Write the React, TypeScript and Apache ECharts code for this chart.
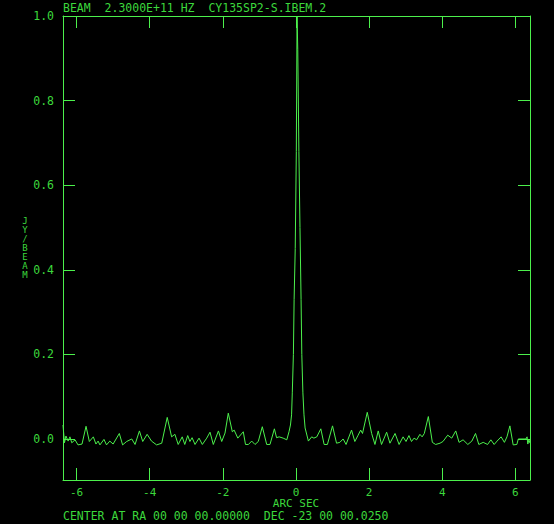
import React, { useEffect, useRef } from "react";
import * as echarts from "echarts";

const TITLE = "BEAM  2.3000E+11 HZ  CY135SP2-S.IBEM.2";
const FOOTER = "CENTER AT RA 00 00 00.00000  DEC -23 00 00.0250";
const X_NAME = "ARC SEC";
const Y_NAME = "JY/BEAM";
const X_TICKS = [-6, -4, -2, 0, 2, 4, 6];
const Y_TICKS = [0, 0.2, 0.4, 0.6, 0.8, 1.0];
const X_RANGE = [-6.37, 6.4];
const Y_RANGE = [-0.097, 1.0];

// [arc sec, Jy/beam]
const BEAM: [number, number][] = [
  [-6.37, 0.033], [-6.33, -0.009], [-6.29, 0.007], [-6.23, -0.005], [-6.18, 0.005], [-6.13, -0.009],
  [-6.04, -0.002], [-5.96, -0.014], [-5.85, -0.012], [-5.74, 0.03], [-5.65, -0.006], [-5.54, 0.005],
  [-5.47, -0.012], [-5.41, -0.005], [-5.36, -0.014], [-5.25, -0.001], [-5.18, -0.014], [-5.09, -0.005],
  [-5.0, -0.012], [-4.83, 0.013], [-4.74, -0.014], [-4.63, -0.006], [-4.49, 0.0], [-4.4, -0.013],
  [-4.28, 0.019], [-4.19, -0.006], [-4.07, 0.011], [-3.95, -0.005], [-3.81, -0.014], [-3.67, -0.01],
  [-3.52, 0.051], [-3.4, 0.005], [-3.31, 0.011], [-3.22, -0.013], [-3.11, 0.005], [-3.04, -0.013],
  [-2.96, 0.008], [-2.9, -0.006], [-2.84, 0.003], [-2.76, -0.013], [-2.65, 0.002], [-2.56, -0.013],
  [-2.44, 0.002], [-2.35, 0.016], [-2.26, -0.013], [-2.12, 0.019], [-2.03, -0.006], [-1.94, 0.014],
  [-1.85, 0.061], [-1.74, 0.017], [-1.69, 0.021], [-1.59, 0.002], [-1.44, 0.017], [-1.38, -0.013],
  [-1.3, -0.013], [-1.21, -0.005], [-1.12, -0.013], [-1.03, -0.006], [-0.92, 0.029], [-0.8, -0.013],
  [-0.71, -0.013], [-0.59, 0.024], [-0.53, 0.003], [-0.46, 0.005], [-0.35, 0.002], [-0.25, -0.002],
  [-0.19, 0.017], [-0.15, 0.033], [-0.12, 0.057], [-0.1, 0.109], [-0.07, 0.2], [-0.05, 0.33],
  [-0.02, 0.45], [0.01, 0.68], [0.03, 1.0], [0.05, 0.92], [0.08, 0.68], [0.11, 0.5],
  [0.14, 0.33], [0.16, 0.2], [0.19, 0.109], [0.22, 0.057], [0.25, 0.026], [0.34, -0.005],
  [0.43, 0.005], [0.49, 0.002], [0.57, 0.005], [0.68, 0.024], [0.77, -0.013], [0.86, -0.013],
  [1.0, 0.031], [1.11, -0.01], [1.2, -0.008], [1.29, 0.0], [1.37, -0.013], [1.52, 0.021],
  [1.61, -0.006], [1.7, 0.009], [1.77, 0.021], [1.82, 0.013], [1.95, 0.063], [2.07, 0.013],
  [2.16, -0.013], [2.25, 0.019], [2.34, -0.013], [2.48, 0.016], [2.57, -0.01], [2.71, 0.013],
  [2.82, -0.013], [2.93, 0.005], [3.01, -0.006], [3.09, 0.008], [3.16, -0.006], [3.23, 0.002],
  [3.3, -0.002], [3.39, 0.011], [3.45, 0.005], [3.51, 0.013], [3.62, 0.053], [3.73, -0.008],
  [3.82, -0.013], [3.94, -0.01], [4.02, -0.006], [4.15, 0.009], [4.26, 0.002], [4.37, 0.019],
  [4.46, -0.008], [4.57, -0.002], [4.7, -0.013], [4.81, -0.005], [4.91, 0.013], [5.0, -0.013],
  [5.12, -0.008], [5.24, -0.013], [5.33, -0.002], [5.42, -0.013], [5.5, -0.005], [5.61, 0.005],
  [5.7, -0.008], [5.77, 0.005], [5.85, 0.031], [5.94, -0.014], [6.04, -0.013], [6.08, 0.0],
  [6.29, 0.0], [6.32, 0.005], [6.34, -0.012], [6.37, -0.002], [6.4, -0.01],
];

const LINE = "#4cf04c";
const TEXT = "#3cd83c";
const FONT = "DejaVu Sans Mono";
const FS = 11.5;
const FS_SMALL = 11;

export default function App() {
  const ref = useRef<HTMLDivElement>(null);
  useEffect(() => {
    document.body.style.margin = "0";
    document.body.style.background = "#000";
    if (!ref.current) return;
    const chart = echarts.init(ref.current, undefined, { renderer: "svg" });
    const axisLine = { show: true, onZero: false, lineStyle: { color: LINE, width: 1 } };
    const tick = (vals: number[]) => ({
      show: true,
      inside: true,
      length: 12,
      customValues: vals,
      lineStyle: { color: LINE, width: 1 },
    });
    const xBase = {
      type: "value" as const,
      min: X_RANGE[0],
      max: X_RANGE[1],
      splitLine: { show: false },
      axisLine,
    };
    const yBase = {
      type: "value" as const,
      min: Y_RANGE[0],
      max: Y_RANGE[1],
      splitLine: { show: false },
      axisLine,
    };
    chart.setOption({
      animation: false,
      backgroundColor: "#000",
      grid: { left: 63, right: 24, top: 16, bottom: 44, containLabel: false },
      xAxis: [
        {
          ...xBase,
          position: "bottom",
          axisTick: tick(X_TICKS),
          axisLabel: {
            show: true,
            customValues: X_TICKS,
            formatter: (v: number) => String(Math.round(v)),
            color: TEXT,
            fontFamily: FONT,
            fontSize: FS_SMALL,
            lineHeight: 10,
            margin: 7,
          },
        },
        {
          ...xBase,
          position: "top",
          axisTick: tick(X_TICKS),
          axisLabel: { show: false },
        },
      ],
      yAxis: [
        {
          ...yBase,
          position: "left",
          axisTick: tick(Y_TICKS),
          axisLabel: {
            show: true,
            customValues: Y_TICKS,
            formatter: (v: number) => v.toFixed(1),
            color: TEXT,
            fontFamily: FONT,
            fontSize: FS,
            lineHeight: 10,
            margin: 9,
          },
        },
        {
          ...yBase,
          position: "right",
          axisTick: tick(Y_TICKS),
          axisLabel: { show: false },
        },
      ],
      series: [
        {
          type: "line",
          data: BEAM,
          showSymbol: false,
          symbol: "none",
          lineStyle: { color: LINE, width: 1 },
          xAxisIndex: 0,
          yAxisIndex: 0,
          silent: true,
        },
      ],
      graphic: [
        {
          type: "text",
          x: 63,
          y: 7.5,
          style: {
            text: TITLE,
            fill: TEXT,
            font: `${FS}px ${FONT}`,
            lineHeight: 10,
            verticalAlign: "middle",
          },
        },
        {
          type: "text",
          x: 296,
          y: 503.5,
          style: {
            text: X_NAME,
            fill: TEXT,
            font: `${FS_SMALL}px ${FONT}`,
            lineHeight: 10,
            align: "center",
            verticalAlign: "middle",
          },
        },
        {
          type: "text",
          x: 63,
          y: 515.5,
          style: {
            text: FOOTER,
            fill: TEXT,
            font: `${FS}px ${FONT}`,
            lineHeight: 10,
            verticalAlign: "middle",
          },
        },
        {
          type: "text",
          x: 25,
          y: 248,
          style: {
            text: Y_NAME.split("").join("\n"),
            fill: TEXT,
            font: `9px ${FONT}`,
            lineHeight: 9,
            align: "center",
            verticalAlign: "middle",
          },
        },
      ],
    });
    return () => chart.dispose();
  }, []);
  return <div ref={ref} style={{ width: 554, height: 524, background: "#000" }} />;
}
